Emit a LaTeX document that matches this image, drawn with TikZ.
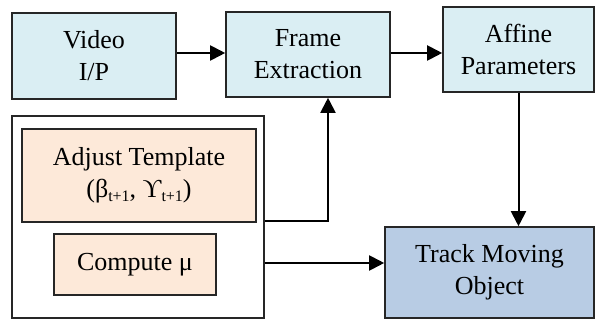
\documentclass[tikz,border=0pt]{standalone}
\usepackage{fontspec}
\setmainfont{Liberation Serif}
\usetikzlibrary{arrows.meta,calc}
\definecolor{lblue}{HTML}{DAEEF3}
\definecolor{peach}{HTML}{FDE9D9}
\definecolor{mblue}{HTML}{B8CCE4}
\newcommand{\sbs}[1]{\raisebox{-0.35ex}{\fontsize{16}{16}\selectfont #1}}
\begin{document}
\begin{tikzpicture}[x=1pt,y=-1pt,
  box/.style={draw=black!85,line width=1.6pt,align=center,inner sep=0pt,
    font=\fontsize{26}{32}\selectfont},
  conn/.style={line width=2pt,-{Triangle[length=15pt,width=15pt]}},
  plain/.style={line width=2pt}]
\useasboundingbox (0,0) rectangle (595,320);
\node[box,fill=lblue,minimum width=164pt,minimum height=86pt] (vid) at (94,56) {Video\\I/P};
\node[box,fill=lblue,minimum width=164pt,minimum height=85pt] (fe) at (308,54.5) {Frame\\Extraction};
\node[box,fill=lblue,minimum width=151pt,minimum height=85pt] (aff) at (518.5,49.5) {Affine\\Parameters};
\node[box,fill=white,minimum width=252pt,minimum height=202pt] (outer) at (138,217) {};
\node[box,fill=peach,minimum width=234pt,minimum height=93pt] (adj) at (139,175.5) {Adjust Template\\(β\sbs{t+1}, ϒ\sbs{t+1})};
\node[box,fill=peach,minimum width=162pt,minimum height=61pt] (comp) at (135,264.5) {Compute μ};
\node[box,fill=mblue,minimum width=209pt,minimum height=91pt] (track) at (489.5,272.5) {Track Moving\\Object};
\coordinate (c1) at (328,221);
\draw[conn] (vid.east |- 0,53) -- (fe.west |- 0,53);
\draw[conn] (fe.east |- 0,53) -- (aff.west |- 0,53);
\draw[conn] (outer.east |- c1) -- (c1) -- (fe.south -| c1);
\draw[conn] (outer.east |- 0,263) -- (track.west |- 0,263);
\draw[conn] (aff.south) -- (track.north -| aff.south);
\end{tikzpicture}
\end{document}
